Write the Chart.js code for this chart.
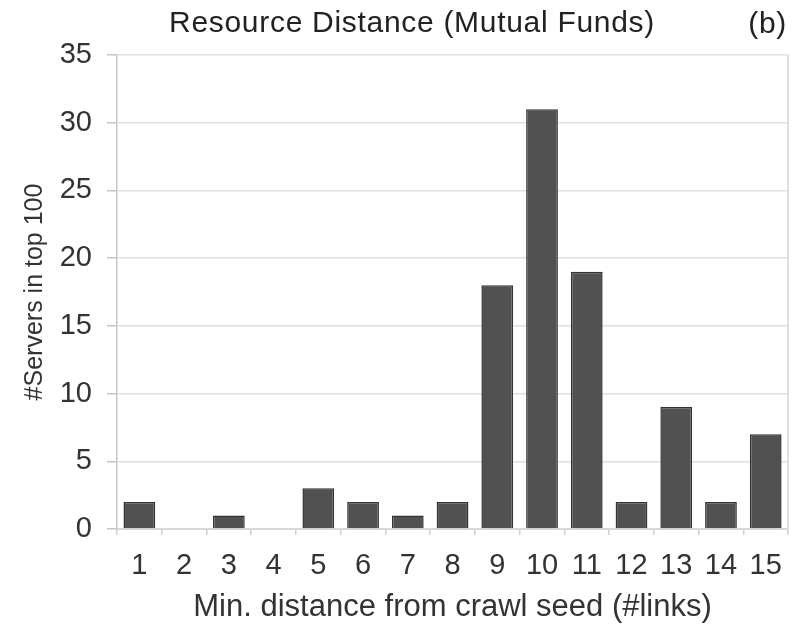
<!DOCTYPE html>
<html>
<head>
<meta charset="utf-8">
<title>Resource Distance (Mutual Funds)</title>
<script src="https://cdn.jsdelivr.net/npm/chart.js@4/dist/chart.umd.min.js"></script>
<style>
  html, body { margin: 0; padding: 0; background: #ffffff; }
  #wrap { width: 796px; height: 626px; }
</style>
</head>
<body>
<div id="wrap"><canvas id="chart" width="796" height="626"></canvas></div>
<script>
// Minimum link distance from the crawl seed, and how many of the top 100 servers sit at each distance
const distances = ['1', '2', '3', '4', '5', '6', '7', '8', '9', '10', '11', '12', '13', '14', '15'];
const serverCounts = [2, 0, 1, 0, 3, 2, 1, 2, 18, 31, 19, 2, 9, 2, 7];
const yTicks = [0, 5, 10, 15, 20, 25, 30, 35];

const chartTitle = 'Resource Distance (Mutual Funds)';
const panelTag = '(b)';
const xTitle = 'Min. distance from crawl seed (#links)';
const yTitle = '#Servers in top 100';

const FONT = '"Liberation Sans", Arial, Helvetica, sans-serif';

// Heading, panel tag and the right-hand frame line of the plot area
const frameAndCaption = {
  id: 'frameAndCaption',
  afterDraw(chart) {
    const { ctx, chartArea } = chart;
    ctx.save();
    ctx.strokeStyle = '#d6d6d6';
    ctx.lineWidth = 1.5;
    ctx.beginPath();
    ctx.moveTo(chartArea.right, chartArea.top);
    ctx.lineTo(chartArea.right, chartArea.bottom);
    ctx.stroke();

    ctx.fillStyle = '#222';
    ctx.font = '30px ' + FONT;
    ctx.letterSpacing = '0.7px';
    ctx.textBaseline = 'alphabetic';
    ctx.textAlign = 'center';
    ctx.fillText(chartTitle, 412, 32);
    ctx.textAlign = 'right';
    ctx.fillText(panelTag, 787, 33);
    ctx.restore();
  }
};

new Chart(document.getElementById('chart'), {
  type: 'bar',
  data: {
    labels: distances,
    datasets: [{
      data: serverCounts,
      backgroundColor: '#515151',
      borderColor: '#333333',
      borderWidth: 1.5,
      borderSkipped: 'bottom',
      barPercentage: 0.71,
      categoryPercentage: 1.0
    }]
  },
  options: {
    responsive: false,
    animation: false,
    devicePixelRatio: 1,
    layout: { padding: { top: 55, right: 5, bottom: 0, left: 0 } },
    plugins: {
      legend: { display: false },
      title: { display: false },
      tooltip: { enabled: false }
    },
    scales: {
      x: {
        grid: {
          offset: true,
          drawOnChartArea: false,
          drawTicks: true,
          tickLength: 6,
          tickColor: '#cfcfcf',
          lineWidth: 1.5
        },
        border: { display: true, color: '#d8d8d8', width: 2 },
        ticks: {
          color: '#333',
          font: { family: FONT, size: 29 },
          padding: 14,
          maxRotation: 0,
          autoSkip: false
        },
        title: {
          display: true,
          text: xTitle,
          color: '#333',
          font: { family: FONT, size: 31 },
          padding: { top: 0, bottom: 0 }
        },
        afterFit(scale) { scale.height = 97; }
      },
      y: {
        min: 0,
        max: 35,
        afterBuildTicks(scale) { scale.ticks = yTicks.map(v => ({ value: v })); },
        grid: {
          color: '#e0e0e0',
          lineWidth: 1.5,
          drawTicks: true,
          tickLength: 10,
          tickColor: '#c4c4c4'
        },
        border: { display: true, color: '#c8c8c8', width: 1.5 },
        ticks: {
          color: '#333',
          font: { family: FONT, size: 29 },
          padding: 15
        },
        title: {
          display: true,
          text: yTitle,
          color: '#333',
          font: { family: FONT, size: 25 },
          padding: { top: 20, bottom: 0 }
        },
        afterFit(scale) { scale.width = 117; }
      }
    }
  },
  plugins: [frameAndCaption]
});
</script>
</body>
</html>
